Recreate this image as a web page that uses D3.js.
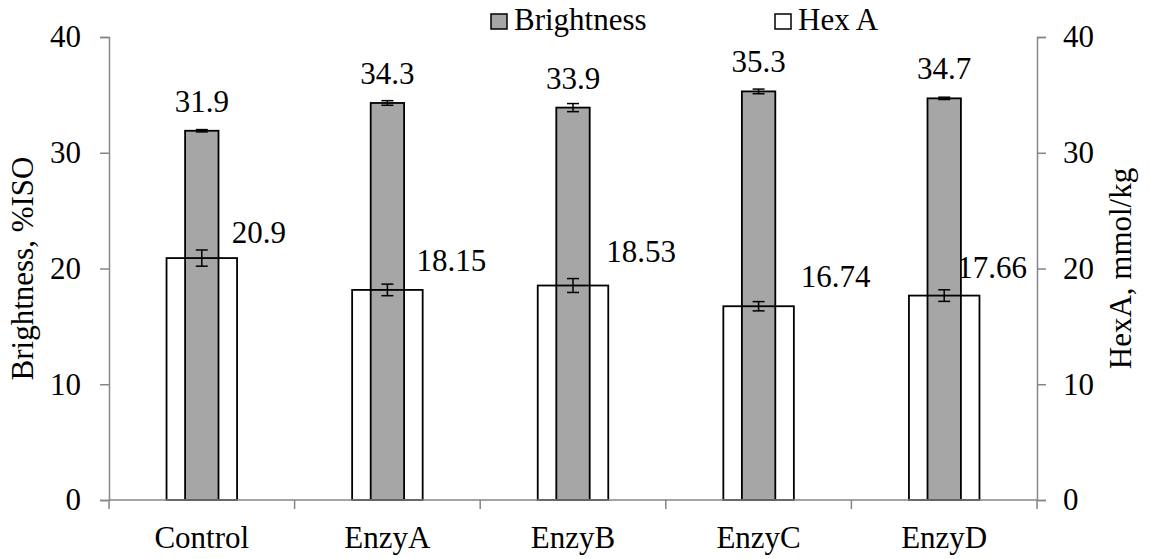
<!DOCTYPE html>
<html>
<head>
<meta charset="utf-8">
<script src="https://cdn.jsdelivr.net/npm/d3@7"></script>
<style>
  body { margin: 0; background: #fff; }
  text { font-family: "Liberation Serif", "Times New Roman", serif; fill: #000; }
</style>
</head>
<body>
<svg id="chart" width="1149" height="559"></svg>
<script>
// Data
const categories = ['Control', 'EnzyA', 'EnzyB', 'EnzyC', 'EnzyD'];
const brightness = [31.9, 34.3, 33.9, 35.3, 34.7];
const brightnessErr = [0.1, 0.2, 0.35, 0.2, 0.1];
const hexA = [20.9, 18.15, 18.53, 16.74, 17.66];
const hexAErr = [0.7, 0.5, 0.6, 0.4, 0.5];
const hexALabels = ['20.9', '18.15', '18.53', '16.74', '17.66'];
const yTicks = [0, 10, 20, 30, 40];

// Hex A labels were moved by hand in the original, so nudge them one by one
const hexLabelShift = [[57, 15], [64, 19], [68, 24], [77, 19], [48, 18]];

const svg = d3.select('#chart');
const margin = { left: 109, right: 1037, top: 37, bottom: 500 };
const axisColor = '#868686';
const fontSize = 31;

const x = d3.scaleBand()
    .domain(categories)
    .range([margin.left, margin.right]);

const yLeft = d3.scaleLinear().domain([0, 40]).range([margin.bottom, margin.top]);
const yRight = d3.scaleLinear().domain([0, 40]).range([margin.bottom, margin.top]);

const grayW = x.bandwidth() * 0.18;
const whiteW = x.bandwidth() * 0.38;

// Left axis
const leftAxis = svg.append('g')
    .attr('transform', `translate(${margin.left},0)`)
    .call(d3.axisLeft(yLeft).tickValues(yTicks).tickSize(9).tickPadding(19));
// Right axis
const rightAxis = svg.append('g')
    .attr('transform', `translate(${margin.right},0)`)
    .call(d3.axisRight(yRight).tickValues(yTicks).tickSize(9).tickPadding(17));

[leftAxis, rightAxis].forEach(g => {
    g.attr('font-family', null).attr('font-size', null);
    g.select('.domain').attr('stroke', axisColor).attr('stroke-width', 1.5);
    g.selectAll('.tick line').attr('stroke', axisColor).attr('stroke-width', 1.5);
    g.selectAll('.tick text')
        .attr('font-size', fontSize)
        .attr('fill', '#000');
});

// Brightness bars (drawn first)
const bars = svg.append('g');
bars.selectAll('.bright')
    .data(brightness)
    .enter()
    .append('rect')
    .attr('x', (d, i) => x(categories[i]) + x.bandwidth() / 2 - grayW / 2)
    .attr('y', d => yLeft(d))
    .attr('width', grayW)
    .attr('height', d => margin.bottom - yLeft(d))
    .attr('fill', '#a6a6a6')
    .attr('stroke', '#000')
    .attr('stroke-width', 1.8);

// Hex A bars, outline only, on top
bars.selectAll('.hex')
    .data(hexA)
    .enter()
    .append('rect')
    .attr('x', (d, i) => x(categories[i]) + x.bandwidth() / 2 - whiteW / 2)
    .attr('y', d => yRight(d))
    .attr('width', whiteW)
    .attr('height', d => margin.bottom - yRight(d))
    .attr('fill', 'none')
    .attr('stroke', '#000')
    .attr('stroke-width', 1.8);

// Error bars
function drawErrors(values, errs, scale) {
    const g = svg.append('g').attr('stroke', '#000').attr('stroke-width', 1.5);
    values.forEach((v, i) => {
        const cx = x(categories[i]) + x.bandwidth() / 2;
        const y1 = scale(v + errs[i]);
        const y2 = scale(v - errs[i]);
        g.append('line').attr('x1', cx).attr('x2', cx).attr('y1', y1).attr('y2', y2);
        g.append('line').attr('x1', cx - 6).attr('x2', cx + 6).attr('y1', y1).attr('y2', y1);
        g.append('line').attr('x1', cx - 6).attr('x2', cx + 6).attr('y1', y2).attr('y2', y2);
    });
}
drawErrors(brightness, brightnessErr, yLeft);
drawErrors(hexA, hexAErr, yRight);

// X axis line and category ticks
const xAxis = svg.append('g');
xAxis.append('line')
    .attr('x1', margin.left).attr('x2', margin.right)
    .attr('y1', margin.bottom).attr('y2', margin.bottom)
    .attr('stroke', axisColor).attr('stroke-width', 1.5);
const boundaries = categories.map(c => x(c)).concat([margin.right]);
xAxis.selectAll('.xtick')
    .data(boundaries)
    .enter()
    .append('line')
    .attr('x1', d => d).attr('x2', d => d)
    .attr('y1', margin.bottom).attr('y2', margin.bottom + 9)
    .attr('stroke', axisColor).attr('stroke-width', 1.5);
xAxis.selectAll('.xlabel')
    .data(categories)
    .enter()
    .append('text')
    .attr('x', d => x(d) + x.bandwidth() / 2)
    .attr('y', 548)
    .attr('text-anchor', 'middle')
    .attr('font-size', fontSize)
    .text(d => d);

// Data labels
svg.selectAll('.blabel')
    .data(brightness)
    .enter()
    .append('text')
    .attr('x', (d, i) => x(categories[i]) + x.bandwidth() / 2)
    .attr('y', d => yLeft(d) - 19)
    .attr('text-anchor', 'middle')
    .attr('font-size', fontSize)
    .text(d => d.toFixed(1));

svg.selectAll('.hlabel')
    .data(hexA)
    .enter()
    .append('text')
    .attr('x', (d, i) => x(categories[i]) + x.bandwidth() / 2 + hexLabelShift[i][0])
    .attr('y', (d, i) => yRight(d) - hexLabelShift[i][1])
    .attr('text-anchor', 'middle')
    .attr('font-size', fontSize)
    .text((d, i) => hexALabels[i]);

// Axis titles
svg.append('text')
    .attr('transform', `translate(33,${(margin.top + margin.bottom) / 2}) rotate(-90)`)
    .attr('text-anchor', 'middle')
    .attr('font-size', fontSize)
    .text('Brightness, %ISO');

svg.append('text')
    .attr('transform', `translate(1131,${(margin.top + margin.bottom) / 2}) rotate(-90)`)
    .attr('text-anchor', 'middle')
    .attr('font-size', fontSize)
    .text('HexA, mmol/kg');

// Legend
const legendItems = [
    { name: 'Brightness', fill: '#a6a6a6', x: 491 },
    { name: 'Hex A', fill: '#fff', x: 775 }
];
const legend = svg.append('g');
legendItems.forEach(item => {
    legend.append('rect')
        .attr('x', item.x).attr('y', 14)
        .attr('width', 16).attr('height', 15)
        .attr('fill', item.fill)
        .attr('stroke', '#000').attr('stroke-width', 1.5);
    legend.append('text')
        .attr('x', item.x + 23).attr('y', 30)
        .attr('font-size', fontSize)
        .text(item.name);
});
</script>
</body>
</html>
